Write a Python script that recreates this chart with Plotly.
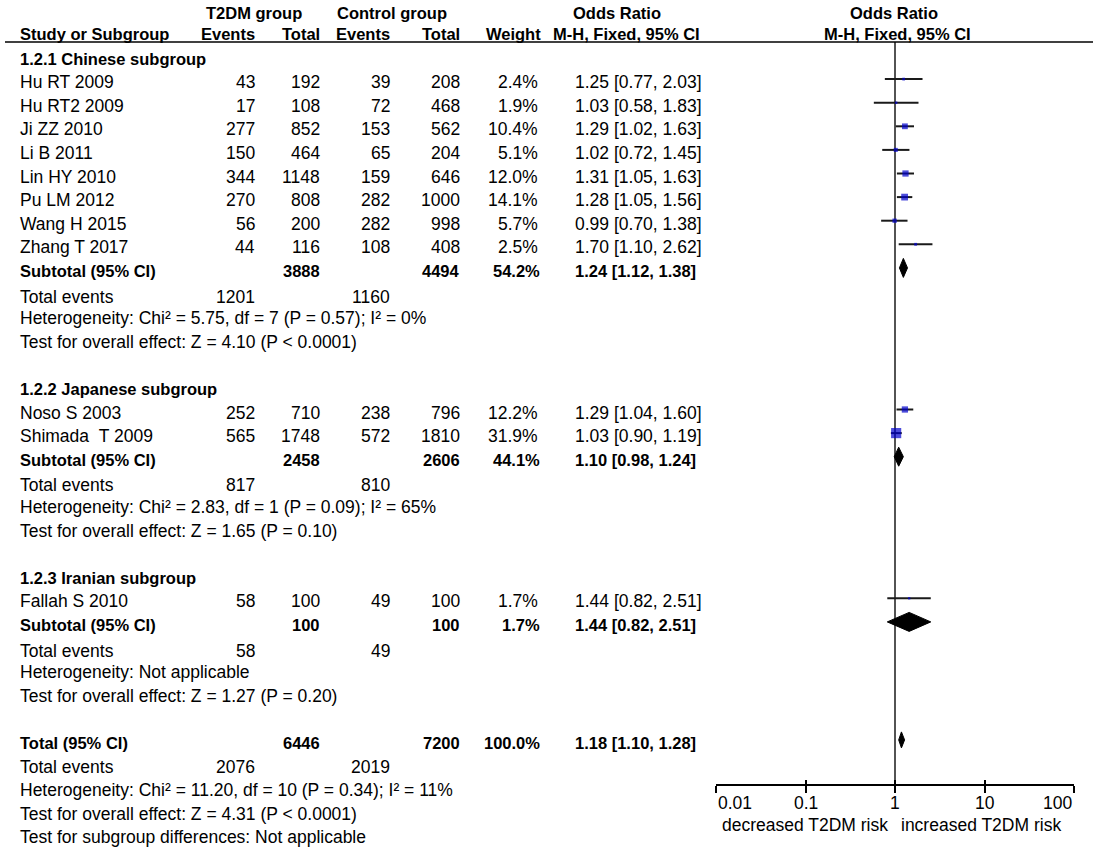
import math

import plotly.graph_objects as go

# ---- data ----
studies = ["Hu RT 2009", "Hu RT2 2009", "Ji ZZ 2010", "Li B 2011", "Lin HY 2010",
           "Pu LM 2012", "Wang H 2015", "Zhang T 2017",
           "Noso S 2003", "Shimada\u00a0\u00a0T 2009",
           "Fallah S 2010"]
study_group = [0, 0, 0, 0, 0, 0, 0, 0, 1, 1, 2]
t2dm_events = [43, 17, 277, 150, 344, 270, 56, 44, 252, 565, 58]
t2dm_total = [192, 108, 852, 464, 1148, 808, 200, 116, 710, 1748, 100]
ctrl_events = [39, 72, 153, 65, 159, 282, 282, 108, 238, 572, 49]
ctrl_total = [208, 468, 562, 204, 646, 1000, 998, 408, 796, 1810, 100]
weight = [2.4, 1.9, 10.4, 5.1, 12.0, 14.1, 5.7, 2.5, 12.2, 31.9, 1.7]
odds = [1.25, 1.03, 1.29, 1.02, 1.31, 1.28, 0.99, 1.70, 1.29, 1.03, 1.44]
ci_low = [0.77, 0.58, 1.02, 0.72, 1.05, 1.05, 0.70, 1.10, 1.04, 0.90, 0.82]
ci_high = [2.03, 1.83, 1.63, 1.45, 1.63, 1.56, 1.38, 2.62, 1.60, 1.19, 2.51]

groups = ["1.2.1 Chinese subgroup", "1.2.2 Japanese subgroup", "1.2.3 Iranian subgroup"]
grp_t2dm_total = [3888, 2458, 100]
grp_ctrl_total = [4494, 2606, 100]
grp_weight = [54.2, 44.1, 1.7]
grp_odds = [1.24, 1.10, 1.44]
grp_low = [1.12, 0.98, 0.82]
grp_high = [1.38, 1.24, 2.51]
grp_t2dm_events = [1201, 817, 58]
grp_ctrl_events = [1160, 810, 49]
grp_het = ["Heterogeneity: Chi² = 5.75, df = 7 (P = 0.57); I² = 0%",
           "Heterogeneity: Chi² = 2.83, df = 1 (P = 0.09); I² = 65%",
           "Heterogeneity: Not applicable"]
grp_test = ["Test for overall effect: Z = 4.10 (P < 0.0001)",
            "Test for overall effect: Z = 1.65 (P = 0.10)",
            "Test for overall effect: Z = 1.27 (P = 0.20)"]

total = {"t2dm_total": 6446, "ctrl_total": 7200, "weight": 100.0,
         "odds": 1.18, "low": 1.10, "high": 1.28,
         "t2dm_events": 2076, "ctrl_events": 2019}
total_het = "Heterogeneity: Chi² = 11.20, df = 10 (P = 0.34); I² = 11%"
total_test = "Test for overall effect: Z = 4.31 (P < 0.0001)"
subgroup_test = "Test for subgroup differences: Not applicable"

axis_ticks = [0.01, 0.1, 1, 10, 100]
axis_labels = ["0.01", "0.1", "1", "10", "100"]

# ---- layout in page pixels ----
W, H = 1093, 851
FONT = "Liberation Sans, Arial, sans-serif"
FS = 17.5       # regular text
FSB = 16.5      # bold text
ROW0, STEP = 58.5, 23.6
X_NAME = 18
X_EV1, X_TOT1, X_EV2, X_TOT2, X_WT = 257, 322, 392, 462, 540
X_OR = 573
AX_Y = 785
MARK_DY = 3     # marks sit a little above the text centre

annots = []


def txt(x, y, s, anchor="left", bold=False, xref="x"):
    annots.append(dict(x=x, y=y, xref=xref, yref="y", text=f"<b>{s}</b>" if bold else s,
                       xanchor=anchor, yanchor="middle", showarrow=False,
                       font=dict(family=FONT, size=FSB if bold else FS, color="black")))


def or_text(o, lo, hi):
    return f"{o:.2f} [{lo:.2f}, {hi:.2f}]"


# headers
txt(254, 13, "T2DM group", "center", True)
txt(392, 13, "Control group", "center", True)
txt(617, 13, "Odds Ratio", "center", True)
txt(894, 13, "Odds Ratio", "center", True)
txt(X_NAME, 34, "Study or Subgroup", bold=True)
txt(X_EV1, 34, "Events", "right", True)
txt(X_TOT1, 34, "Total", "right", True)
txt(X_EV2, 34, "Events", "right", True)
txt(X_TOT2, 34, "Total", "right", True)
txt(543, 34, "Weight", "right", True)
txt(626, 34, "M-H, Fixed, 95% CI", "center", True)
txt(897, 34, "M-H, Fixed, 95% CI", "center", True)

study_y = []
diamonds = []  # (y, low, mid, high, half height)
row = 0


def ry(r):
    return ROW0 + STEP * r


for g, gname in enumerate(groups):
    txt(X_NAME, ry(row), gname, bold=True)
    row += 1
    for i, s in enumerate(studies):
        if study_group[i] != g:
            continue
        y = ry(row)
        study_y.append(y)
        txt(X_NAME, y, s)
        txt(X_EV1, y, str(t2dm_events[i]), "right")
        txt(X_TOT1, y, str(t2dm_total[i]), "right")
        txt(X_EV2, y, str(ctrl_events[i]), "right")
        txt(X_TOT2, y, str(ctrl_total[i]), "right")
        txt(X_WT, y, f"{weight[i]:.1f}%", "right")
        txt(X_OR, y, or_text(odds[i], ci_low[i], ci_high[i]))
        row += 1
    y = ry(row)
    txt(X_NAME, y, "Subtotal (95% CI)", bold=True)
    txt(X_TOT1, y, str(grp_t2dm_total[g]), "right", True)
    txt(X_TOT2, y, str(grp_ctrl_total[g]), "right", True)
    txt(X_WT + 2, y, f"{grp_weight[g]:.1f}%", "right", True)
    txt(X_OR, y, or_text(grp_odds[g], grp_low[g], grp_high[g]), bold=True)
    diamonds.append((y, grp_low[g], grp_odds[g], grp_high[g], 9.5))
    row += 1
    y = ry(row) + 2
    txt(X_NAME, y, "Total events")
    txt(X_EV1, y, str(grp_t2dm_events[g]), "right")
    txt(X_EV2, y, str(grp_ctrl_events[g]), "right")
    row += 1
    txt(X_NAME, ry(row), grp_het[g])
    row += 1
    txt(X_NAME, ry(row), grp_test[g])
    row += 2

y = ry(row)
txt(X_NAME, y, "Total (95% CI)", bold=True)
txt(X_TOT1, y, str(total["t2dm_total"]), "right", True)
txt(X_TOT2, y, str(total["ctrl_total"]), "right", True)
txt(X_WT + 2, y, f"{total['weight']:.1f}%", "right", True)
txt(X_OR, y, or_text(total["odds"], total["low"], total["high"]), bold=True)
diamonds.append((y, total["low"], total["odds"], total["high"], 8))
row += 1
y = ry(row)
txt(X_NAME, y, "Total events")
txt(X_EV1, y, str(total["t2dm_events"]), "right")
txt(X_EV2, y, str(total["ctrl_events"]), "right")
row += 1
txt(X_NAME, ry(row), total_het)
row += 1
txt(X_NAME, ry(row), total_test)
row += 1
txt(X_NAME, ry(row), subgroup_test)

# axis tick labels and direction labels (log axis -> log10 positions)
tick_anchor = ["left", "center", "center", "center", "right"]
for v, lab, a in zip(axis_ticks, axis_labels, tick_anchor):
    txt(math.log10(v), 803, lab, a, xref="x2")
txt(math.log10(0.88), 825, "decreased T2DM risk", "right", xref="x2")
txt(math.log10(1.11), 825, "increased T2DM risk", "left", xref="x2")

fig = go.Figure()

# line of no effect
fig.add_trace(go.Scatter(x=[1, 1], y=[42, AX_Y], xaxis="x2", yaxis="y", mode="lines",
                         line=dict(color="#1a1a1a", width=1.5), hoverinfo="skip"))

# confidence intervals
cx, cy = [], []
for lo, hi, y in zip(ci_low, ci_high, study_y):
    cx += [lo, hi, None]
    cy += [y - MARK_DY, y - MARK_DY, None]
fig.add_trace(go.Scatter(x=cx, y=cy, xaxis="x2", yaxis="y", mode="lines",
                         line=dict(color="#1a1a1a", width=2), hoverinfo="skip"))

# study squares sized by weight
fig.add_trace(go.Scatter(x=odds, y=[y - MARK_DY for y in study_y], xaxis="x2", yaxis="y",
                         mode="markers",
                         marker=dict(symbol="square", color="#0000cc",
                                     size=[1.8 * math.sqrt(w) for w in weight],
                                     line=dict(width=0)),
                         hoverinfo="skip"))

# pooled diamonds
for y, lo, mid, hi, h in diamonds:
    yc = y - MARK_DY
    fig.add_trace(go.Scatter(x=[lo, mid, hi, mid, lo], y=[yc, yc - h, yc, yc + h, yc],
                             xaxis="x2", yaxis="y", mode="lines", fill="toself",
                             fillcolor="black", line=dict(color="black", width=1),
                             hoverinfo="skip"))

# helper trace so the overlaid tick axis is drawn
fig.add_trace(go.Scatter(x=[1], y=[AX_Y], xaxis="x3", yaxis="y", mode="markers",
                         marker=dict(opacity=0), hoverinfo="skip"))

dom = [716 / W, 1074 / W]
pos = 1 - AX_Y / H
fig.update_layout(
    width=W, height=H, margin=dict(l=0, r=0, t=0, b=0),
    paper_bgcolor="white", plot_bgcolor="white", showlegend=False,
    xaxis=dict(range=[0, W], domain=[0, 1], visible=False),
    yaxis=dict(range=[H, 0], domain=[0, 1], visible=False),
    xaxis2=dict(type="log", range=[-2, 2], domain=dom, anchor="free", position=pos,
                showline=True, linecolor="black", linewidth=1.5,
                ticks="outside", ticklen=7, tickwidth=1.5, tickcolor="black",
                tickvals=axis_ticks, showticklabels=False,
                showgrid=False, zeroline=False),
    xaxis3=dict(type="log", range=[-2, 2], domain=dom, anchor="free", position=pos,
                overlaying="x2", showline=False,
                ticks="inside", ticklen=5, tickwidth=1.5, tickcolor="black",
                tickvals=axis_ticks, showticklabels=False,
                showgrid=False, zeroline=False),
    annotations=annots,
)

# header rule
fig.add_shape(type="line", xref="x", yref="y", x0=5, x1=W, y0=42, y1=42,
              line=dict(color="black", width=1.5))

# the page body has a default 8px margin; drop it so the figure fills the window
fig.write_html("out.html", config={"displayModeBar": False},
               post_script="document.body.style.margin='0px';")
